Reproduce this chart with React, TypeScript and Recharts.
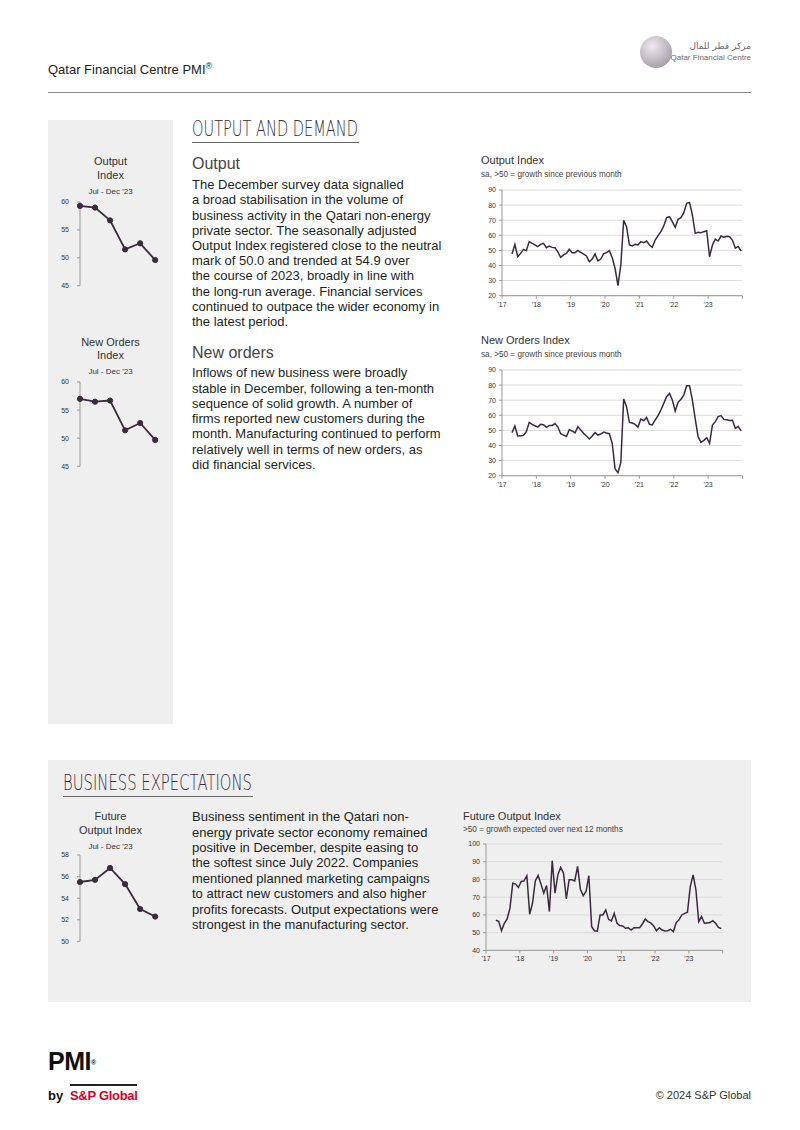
import React from "react";
import { LineChart, Line, XAxis, YAxis, CartesianGrid } from "recharts";

// months are counted from Jan 2017 = 0; the survey starts in April 2017
const firstMonth = 3;
const yearLabels = ["'17", "'18", "'19", "'20", "'21", "'22", "'23"];
const h2Labels = ["Jul", "Aug", "Sep", "Oct", "Nov", "Dec"];

// Apr 2017 - Jun 2023
const outputHistory = [
  47.6, 54, 45.8, 48, 50.7, 49.8, 55.8, 54.7, 53.6,
  52.5, 54, 54.7, 51.8, 52.9, 52, 51.8, 49, 45.4, 47, 48, 50.7,
  48.5, 48.5, 50, 48.7, 47.6, 46.3, 42.5, 44.3, 47.6, 43, 44.3, 47.8,
  48.5, 49.8, 45.2, 38, 26.6, 40.3, 70, 65.7, 53.6, 52.9, 54, 53.6,
  55.8, 55.1, 56.2, 53.6, 52, 56.9, 59.8, 62.4, 66.2, 71.7, 72.3, 69,
  65.3, 70.6, 71.7, 75, 81.2, 81.8, 73.4, 61.3, 62, 61.7, 62.4, 63,
  45.8, 53.6, 57.5, 56.2, 59.5, 58.7,
];
const newOrdersHistory = [
  48.5, 52.9, 46.3, 46.5, 46.7, 49.2, 55.3, 54, 53.1,
  52.2, 54, 53.8, 52, 53.3, 53.3, 54.5, 52.2, 47.8, 46.9, 46, 50.5,
  49.6, 48.3, 52.5, 50.3, 48.1, 46.3, 44.3, 46.3, 48.5, 46.9, 47.6, 48.9,
  48.3, 47.8, 41.4, 24.4, 22, 28.6, 70.8, 65.7, 55.3, 54.9, 54, 52.2,
  57.5, 56.4, 58.6, 54, 53.6, 56.9, 59.8, 63.5, 67.9, 72.3, 74.5, 70.1,
  62.8, 68.6, 70.6, 73.4, 79.6, 79.6, 70.1, 57.5, 45.8, 42.1, 43.4, 45.2,
  41.4, 53.6, 55.8, 59.1, 59.8, 57.3,
];
const futureHistory = [
  57, 56.4, 51.1, 55.3, 57.7, 63.8, 77.9, 77.4, 75.5,
  78.9, 79.2, 82.1, 60.4, 66.6, 79.2, 82.3, 77.5, 72.3, 76.6, 61.9, 90.6,
  72.3, 82.6, 86.8, 83.6, 69.1, 79.8, 79.8, 79.2, 87.4, 74.5, 70.9, 73.2,
  82.1, 53.4, 51.1, 50.9, 60, 60, 62.8, 57.5, 56.6, 60.9, 55.3, 54,
  53.8, 52.5, 52.8, 51.5, 52.8, 52.8, 52.8, 54.9, 57.7, 56.2, 55.5, 53.8,
  51.1, 52.8, 51.5, 50.9, 51.1, 51.9, 50.6, 55.7, 57.2, 60, 60.9, 61.5,
  76, 82.6, 74.2, 56.2, 59.1, 55.3,
];

// Jul - Dec 2023
const outputH2 = [59.3, 59.0, 56.7, 51.5, 52.6, 49.6];
const newOrdersH2 = [57.0, 56.5, 56.7, 51.4, 52.7, 49.7];
const futureH2 = [55.5, 55.7, 56.8, 55.3, 53.0, 52.3];

const indexTicks = [20, 30, 40, 50, 60, 70, 80, 90];
const futureTicks = [40, 50, 60, 70, 80, 90, 100];
const miniIndexTicks = [45, 50, 55, 60];
const miniFutureTicks = [50, 52, 54, 56, 58];

const LINE = "#3b2a3d";
const FONT = "'Liberation Sans', Arial, Helvetica, sans-serif";
const PANEL = "#efefef";

const yearTicks = yearLabels.map((_, i) => i * 12).concat([84]);

function monthly(values: number[]) {
  return values.map((v, i) => ({ x: firstMonth + i + 0.5, v }));
}

function T({ x, cy, size, color = "#231f20", align = "left", children, style = {} }: any) {
  const lh = size * 1.2;
  const pos: any = align === "right" ? { right: 800 - x } : align === "center" ? { left: x - 100, width: 200, textAlign: "center" } : { left: x };
  return (
    <div style={{ position: "absolute", top: cy - lh / 2, ...pos, fontSize: size, lineHeight: `${lh}px`, color, whiteSpace: "nowrap", fontFamily: FONT, ...style }}>
      {children}
    </div>
  );
}

function Para({ x, y, step, lines }: { x: number; y: number; step: number; lines: string[] }) {
  return (
    <>
      {lines.map((l, i) => (
        <T key={i} x={x} cy={y + i * step} size={13}>{l}</T>
      ))}
    </>
  );
}

function Heading({ x, y, width, text }: { x: number; y: number; width: number; text: string }) {
  return (
    <>
      <svg style={{ position: "absolute", left: x, top: y - 22, overflow: "visible" }} width={width + 120} height={30}>
        <text x={0} y={22} textLength={width} lengthAdjust="spacingAndGlyphs" fontSize={22} fontWeight={200} fontFamily="'DejaVu Sans', sans-serif" fill="#3b2c3e">
          {text}
        </text>
      </svg>
      <div style={{ position: "absolute", left: x, top: y + 6, width: width + 1, height: 1, background: "#6a6a6a" }} />
    </>
  );
}

function BigChart({ values, yTicks, plotLeft, plotTop, plotW, plotH }: any) {
  const yW = 30;
  const pad = 6;
  const xH = 18;
  return (
    <div style={{ position: "absolute", left: plotLeft - yW, top: plotTop - pad }}>
      <LineChart width={yW + plotW + pad} height={pad + plotH + xH} data={monthly(values)} margin={{ top: pad, right: pad, left: 0, bottom: 0 }}>
        <CartesianGrid vertical={false} stroke="#dcdcdc" />
        <XAxis
          type="number"
          dataKey="x"
          domain={[0, 84]}
          ticks={yearTicks}
          interval={0}
          tickFormatter={(v: number) => yearLabels[v / 12] ?? ""}
          height={xH}
          tickSize={3}
          tickMargin={3}
          stroke="#9a9a9a"
          tick={{ fontSize: 7, fill: "#333", fontFamily: FONT }}
        />
        <YAxis
          type="number"
          domain={[yTicks[0], yTicks[yTicks.length - 1]]}
          ticks={yTicks}
          interval={0}
          width={yW}
          tickSize={3}
          tickMargin={3}
          stroke="#9a9a9a"
          tick={{ fontSize: 7, fill: "#333", fontFamily: FONT }}
        />
        <Line type="linear" dataKey="v" stroke={LINE} strokeWidth={1.5} dot={false} isAnimationActive={false} />
      </LineChart>
    </div>
  );
}

function MiniChart({ values, yTicks, plotTop, plotH }: any) {
  const yW = 32;
  const pad = 6;
  const plotLeft = 79.5;
  const plotW = 75.2;
  const data = values.map((v: number, i: number) => ({ x: i, month: h2Labels[i], v }));
  return (
    <div style={{ position: "absolute", left: plotLeft - yW, top: plotTop - pad }}>
      <LineChart width={yW + plotW + pad} height={pad * 2 + plotH} data={data} margin={{ top: pad, right: pad, left: 0, bottom: pad }}>
        <XAxis type="number" dataKey="x" domain={[0, 5]} hide />
        <YAxis
          type="number"
          domain={[yTicks[0], yTicks[yTicks.length - 1]]}
          ticks={yTicks}
          interval={0}
          width={yW}
          tickSize={3}
          tickMargin={8}
          stroke="#9a9a9a"
          tick={{ fontSize: 7, fill: "#333", fontFamily: FONT }}
        />
        <Line type="linear" dataKey="v" stroke={LINE} strokeWidth={1.8} dot={{ r: 2.6, fill: LINE, stroke: LINE, strokeWidth: 1 }} isAnimationActive={false} />
      </LineChart>
    </div>
  );
}

function MiniTitle({ top, lines }: { top: number; lines: string[] }) {
  return (
    <>
      {lines.map((l, i) => (
        <T key={i} x={110.5} cy={top + i * 13.3} size={11} align="center" color="#333">{l}</T>
      ))}
      <T x={110.5} cy={top + lines.length * 13.3 + 3} size={8} align="center" color="#333">Jul - Dec '23</T>
    </>
  );
}

export default function App() {
  return (
    <div style={{ position: "absolute", left: 0, top: 0, width: 800, height: 1130, background: "#fff", overflow: "hidden", fontFamily: FONT }}>
      {/* header */}
      <T x={48} cy={67} size={13} color="#222">
        Qatar Financial Centre PMI<sup style={{ fontSize: 9 }}>®</sup>
      </T>
      <div style={{ position: "absolute", left: 640, top: 36, width: 32, height: 32, borderRadius: "50%", background: "radial-gradient(circle at 38% 32%, #eeeaee 0%, #bdb5bd 55%, #8e868e 100%)" }} />
      <T x={751} cy={46} size={9} align="right" color="#6e6870" style={{ fontFamily: "'DejaVu Sans', sans-serif", direction: "rtl" }}>مركز قطر للمال</T>
      <T x={751} cy={58} size={8} align="right" color="#6e6870">Qatar Financial Centre</T>
      <div style={{ position: "absolute", left: 48, top: 92, width: 703, height: 1, background: "#8a8a8a" }} />

      {/* output and demand */}
      <div style={{ position: "absolute", left: 48, top: 120, width: 125, height: 604, background: PANEL }} />
      <Heading x={192} y={136} width={166} text="OUTPUT AND DEMAND" />

      <T x={192} cy={164} size={16} color="#444">Output</T>
      <Para
        x={192}
        y={185}
        step={15.2}
        lines={[
          "The December survey data signalled",
          "a broad stabilisation in the volume of",
          "business activity in the Qatari non-energy",
          "private sector. The seasonally adjusted",
          "Output Index registered close to the neutral",
          "mark of 50.0 and trended at 54.9 over",
          "the course of 2023, broadly in line with",
          "the long-run average. Financial services",
          "continued to outpace the wider economy in",
          "the latest period.",
        ]}
      />
      <T x={192} cy={353} size={16} color="#444">New orders</T>
      <Para
        x={192}
        y={373}
        step={15.3}
        lines={[
          "Inflows of new business were broadly",
          "stable in December, following a ten-month",
          "sequence of solid growth. A number of",
          "firms reported new customers during the",
          "month. Manufacturing continued to perform",
          "relatively well in terms of new orders, as",
          "did financial services.",
        ]}
      />

      <MiniTitle top={162} lines={["Output", "Index"]} />
      <MiniChart values={outputH2} yTicks={miniIndexTicks} plotTop={202.3} plotH={83.7} />
      <MiniTitle top={342.5} lines={["New Orders", "Index"]} />
      <MiniChart values={newOrdersH2} yTicks={miniIndexTicks} plotTop={382} plotH={84.3} />

      <T x={481} cy={161} size={11} color="#333">Output Index</T>
      <T x={481} cy={175} size={8.2} color="#444">sa, &gt;50 = growth since previous month</T>
      <BigChart values={[...outputHistory, ...outputH2]} yTicks={indexTicks} plotLeft={502} plotTop={190} plotW={240.5} plotH={105.7} />

      <T x={481} cy={341} size={11} color="#333">New Orders Index</T>
      <T x={481} cy={355} size={8.2} color="#444">sa, &gt;50 = growth since previous month</T>
      <BigChart values={[...newOrdersHistory, ...newOrdersH2]} yTicks={indexTicks} plotLeft={502} plotTop={370} plotW={240.5} plotH={105.7} />

      {/* business expectations */}
      <div style={{ position: "absolute", left: 48, top: 760, width: 703, height: 242, background: PANEL }} />
      <Heading x={63} y={790} width={189} text="BUSINESS EXPECTATIONS" />
      <MiniTitle top={817} lines={["Future", "Output Index"]} />
      <MiniChart values={futureH2} yTicks={miniFutureTicks} plotTop={855.3} plotH={86.4} />
      <Para
        x={192}
        y={817}
        step={15.4}
        lines={[
          "Business sentiment in the Qatari non-",
          "energy private sector economy remained",
          "positive in December, despite easing to",
          "the softest since July 2022. Companies",
          "mentioned planned marketing campaigns",
          "to attract new customers and also higher",
          "profits forecasts. Output expectations were",
          "strongest in the manufacturing sector.",
        ]}
      />
      <T x={463} cy={817} size={11} color="#333">Future Output Index</T>
      <T x={463} cy={830} size={8.2} color="#444">&gt;50 = growth expected over next 12 months</T>
      <BigChart values={[...futureHistory, ...futureH2]} yTicks={futureTicks} plotLeft={486.3} plotTop={844.3} plotW={236.7} plotH={106.4} />

      {/* footer */}
      <T x={48} cy={1061} size={25} color="#111" style={{ fontWeight: 700, letterSpacing: -0.5 }}>
        PMI<sup style={{ fontSize: 7, verticalAlign: "top", position: "relative", top: 2 }}>®</sup>
      </T>
      <T x={48} cy={1096} size={13} color="#111" style={{ fontWeight: 700 }}>by</T>
      <div style={{ position: "absolute", left: 70, top: 1084, width: 67, height: 1.5, background: "#222" }} />
      <T x={70} cy={1096} size={13} color="#d6002a" style={{ fontWeight: 700, letterSpacing: -0.3 }}>S&amp;P Global</T>
      <T x={751} cy={1096} size={11} align="right" color="#333">© 2024 S&amp;P Global</T>
    </div>
  );
}
